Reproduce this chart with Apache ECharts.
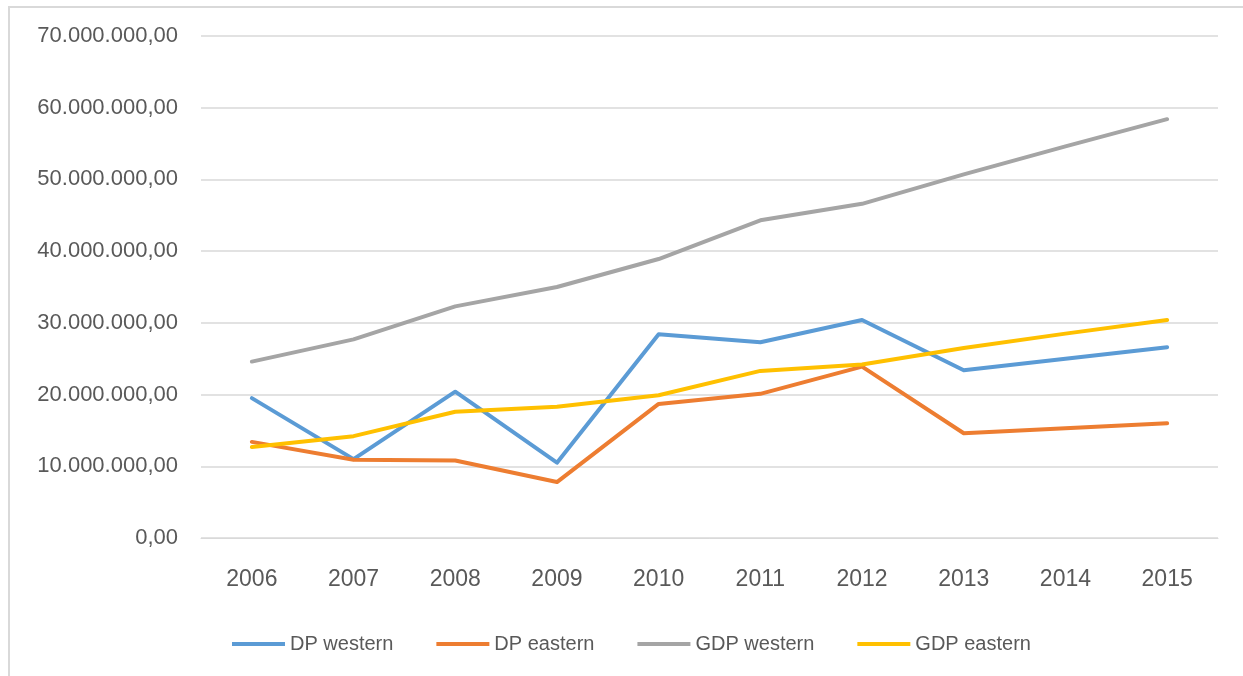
<!DOCTYPE html>
<html>
<head>
<meta charset="utf-8">
<script src="https://cdn.jsdelivr.net/npm/echarts@6/dist/echarts.min.js"></script>
<style>
  html, body { margin: 0; padding: 0; background: #fff; overflow: hidden; }
  #frame { position: absolute; left: 8px; top: 6px; width: 1400px; height: 800px; border: 2px solid #d9d9d9; box-sizing: border-box; }
  #chart { position: absolute; left: 0; top: 0; width: 1243px; height: 676px; }
</style>
</head>
<body>
<div id="frame"></div>
<div id="chart"></div>
<script>
  // data
  const years = ['2006', '2007', '2008', '2009', '2010', '2011', '2012', '2013', '2014', '2015']
  const dpWestern = [19.5, 11.0, 20.4, 10.5, 28.4, 27.3, 30.4, 23.4, 25.0, 26.6]
  const dpEastern = [13.4, 10.9, 10.8, 7.8, 18.7, 20.1, 23.9, 14.6, 15.3, 16.0]
  const gdpWestern = [24.6, 27.7, 32.3, 35.0, 38.9, 44.3, 46.6, 50.7, 54.6, 58.4]
  const gdpEastern = [12.7, 14.2, 17.6, 18.3, 19.9, 23.3, 24.2, 26.5, 28.5, 30.4]
  const million = 1000000

  const names = ['DP western', 'DP eastern', 'GDP western', 'GDP eastern']
  const colors = ['#5B9BD5', '#ED7D31', '#A5A5A5', '#FFC000']
  const values = [dpWestern, dpEastern, gdpWestern, gdpEastern]

  // 70.000.000,00 style
  const fmt = (v) => {
    const s = Math.round(v).toString().replace(/\B(?=(\d{3})+(?!\d))/g, '.')
    return s + ',00'
  }

  const chart = echarts.init(document.getElementById('chart'))

  const series = values.map((arr, i) => ({
    name: names[i],
    type: 'line',
    data: arr.map(v => v * million),
    symbol: 'none',
    lineStyle: { width: 4, color: colors[i], cap: 'round', join: 'round' },
    itemStyle: { color: colors[i] }
  }))

  chart.setOption({
    animation: false,
    grid: { left: 201, right: 25, top: 36, bottom: 138 },
    legend: {
      left: 227,
      top: 629,
      icon: 'rect',
      itemWidth: 53,
      itemHeight: 4,
      itemGap: 43,
      data: names,
      textStyle: { fontFamily: 'Liberation Sans', fontSize: 20, color: '#595959', padding: [0, 0, 0, 0] }
    },
    xAxis: {
      type: 'category',
      data: years,
      boundaryGap: true,
      axisLine: { show: true, lineStyle: { color: '#d9d9d9', width: 1 } },
      axisTick: { show: false },
      axisLabel: { fontFamily: 'Liberation Sans', fontSize: 23, color: '#595959', margin: 30 }
    },
    yAxis: {
      type: 'value',
      min: 0,
      max: 70 * million,
      interval: 10 * million,
      axisLine: { show: false },
      axisTick: { show: false },
      splitLine: { lineStyle: { color: '#d9d9d9', width: 1.5 } },
      axisLabel: { fontFamily: 'Liberation Sans', fontSize: 22, color: '#595959', margin: 23, formatter: fmt }
    },
    series: series
  })
</script>
</body>
</html>
